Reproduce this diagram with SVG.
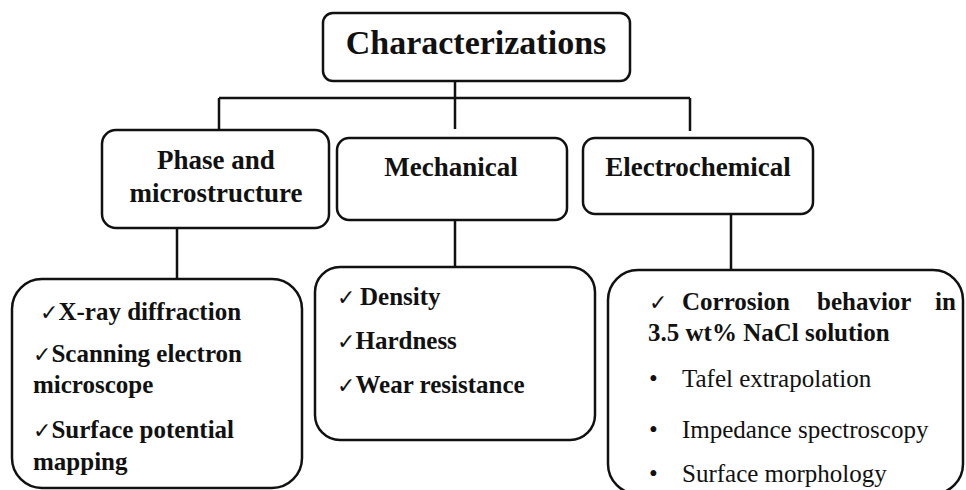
<svg xmlns="http://www.w3.org/2000/svg" width="966" height="490" viewBox="0 0 966 490">
<style>
.box{fill:#fff;stroke:#111;stroke-width:2.5}
.con{fill:none;stroke:#111;stroke-width:2.5}
.h{font-weight:bold;font-size:27px;fill:#111;text-anchor:middle}
.t{font-weight:bold;font-size:34px;fill:#111;text-anchor:middle}
.b{font-weight:bold;font-size:25px;fill:#111}
.r{font-size:25px;fill:#111}
.ck{font-weight:normal;font-size:22px;font-family:"DejaVu Sans",sans-serif}
text{font-family:"Liberation Serif","DejaVu Serif Condensed","DejaVu Serif",Tinos,serif}
</style>
<rect width="966" height="490" fill="#fff"/>
<g id="connectors">
<path class="con" d="M455 81V129M219 98H690M219 98V131M690 98V131M177 228V279M455 220V267M731 214V270"/>
</g>
<g id="characterizations">
<rect class="box" x="323" y="13" width="307" height="68" rx="10"/>
<text class="t" x="476" y="54">Characterizations</text>
</g>
<g id="phase">
<rect class="box" x="102" y="130" width="227" height="98" rx="14"/>
<text class="h" x="216" y="169">Phase and</text>
<text class="h" x="216" y="202">microstructure</text>
</g>
<g id="mechanical">
<rect class="box" x="337" y="138" width="230" height="82" rx="12"/>
<text class="h" x="451" y="176">Mechanical</text>
</g>
<g id="electrochemical">
<rect class="box" x="583" y="138" width="230" height="76" rx="12"/>
<text class="h" x="698" y="176">Electrochemical</text>
</g>
<g id="phase-list">
<rect class="box" x="12" y="279" width="290" height="209" rx="30"/>
<text class="b" x="40" y="320"><tspan class="ck">✓</tspan>X-ray diffraction</text>
<text class="b" x="33" y="362"><tspan class="ck">✓</tspan>Scanning electron</text>
<text class="b" x="33" y="393">microscope</text>
<text class="b" x="33" y="438"><tspan class="ck">✓</tspan>Surface potential</text>
<text class="b" x="33" y="470">mapping</text>
</g>
<g id="mechanical-list">
<rect class="box" x="315" y="267" width="280" height="173" rx="25"/>
<text class="b" x="337" y="305"><tspan class="ck">✓</tspan><tspan x="360">Density</tspan></text>
<text class="b" x="337" y="349"><tspan class="ck">✓</tspan>Hardness</text>
<text class="b" x="337" y="393"><tspan class="ck">✓</tspan>Wear resistance</text>
</g>
<g id="electrochemical-list">
<rect class="box" x="608" y="270" width="355" height="224" rx="30"/>
<text class="b" x="649" y="310"><tspan class="ck">✓</tspan><tspan x="682">Corrosion</tspan><tspan x="817">behavior</tspan><tspan x="935">in</tspan></text>
<text class="b" x="648" y="341">3.5 wt% NaCl solution</text>
<text class="r" x="649" y="387">•</text><text class="r" x="682" y="387">Tafel extrapolation</text>
<text class="r" x="649" y="438">•</text><text class="r" x="682" y="438">Impedance spectroscopy</text>
<text class="r" x="649" y="482">•</text><text class="r" x="682" y="482">Surface morphology</text>
</g>
</svg>
